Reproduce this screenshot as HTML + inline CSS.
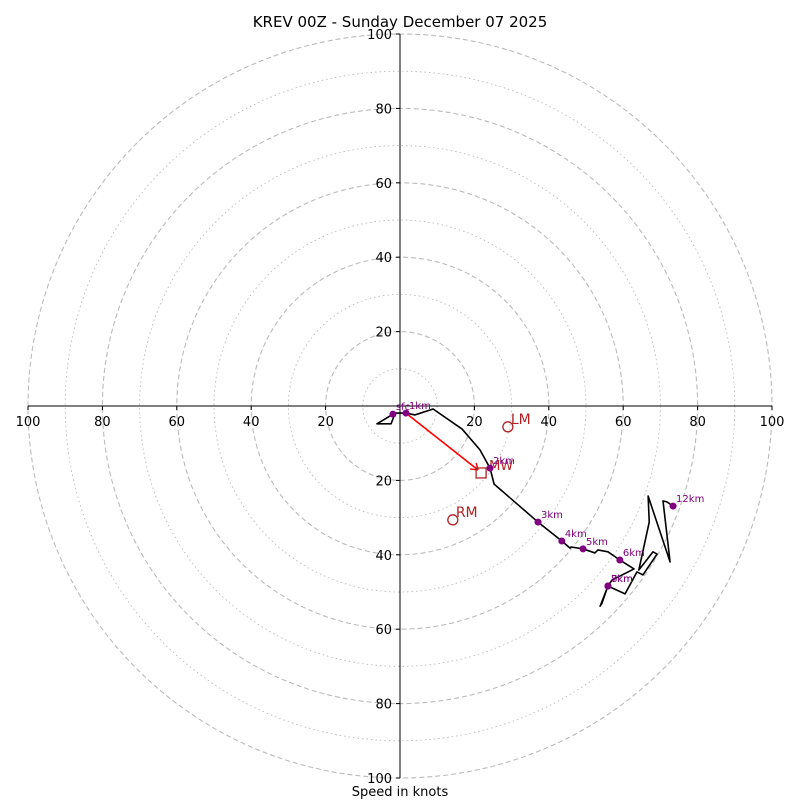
<!DOCTYPE html>
<html><head><meta charset="utf-8"><style>
body{margin:0;background:#fff}
svg text{font-family:"DejaVu Sans","Liberation Sans",sans-serif}
</style></head><body>
<svg id="c" width="800" height="800" viewBox="0 0 800 800">
<text x="400" y="27" text-anchor="middle" font-size="15">KREV 00Z - Sunday December 07 2025</text>
<text x="400" y="796" text-anchor="middle" font-size="13">Speed in knots</text>
<g id="rings"></g><g id="axes"></g><g id="plot"></g>
</svg>
<script>
const CX=400, CY=406, S=3.72;
const ringSpeeds=[10,20,30,40,50,60,70,80,90,100];
const tickLabels=[20,40,60,80,100];
const pathU=[-1.9,-6.2,-2.4,-1.3,1.6,4.0,8.9,16.7,21.5,24.2,25.3,37.1,43.5,45.7,46.0,49.2,52.4,53.2,55.9,59.1,62.9,57.0,55.9,54.3,53.8,55.9,60.5,63.7,65.3,69.1,68.0,64.2,67.0,66.7,72.6,70.7,71.8,73.4];
const pathV=[-2.2,-4.8,-4.8,-1.9,-1.9,-2.4,-0.8,-6.2,-11.8,-16.7,-21.0,-31.2,-36.3,-38.2,-37.9,-38.4,-39.5,-38.7,-39.2,-41.4,-43.8,-46.8,-48.4,-53.0,-53.8,-48.4,-50.5,-44.6,-45.4,-39.8,-39.2,-44.1,-31.2,-24.2,-41.9,-25.5,-25.8,-26.9];
const markLabels=["sfc","1km","2km","3km","4km","5km","6km","7km","8km","12km"];
const markU=[-1.9,1.6,24.2,37.1,43.5,49.2,59.1,55.9,55.9,73.4];
const markV=[-2.2,-1.9,-16.7,-31.2,-36.3,-38.4,-41.4,-48.4,-48.4,-26.9];
const mw=[21.8,-18.0], lm=[29.0,-5.6], rm=[14.2,-30.6];
const sx=u=>CX+u*S, sy=v=>CY-v*S;
const NS="http://www.w3.org/2000/svg";
function mk(t,a,p){const e=document.createElementNS(NS,t);for(const k in a)e.setAttribute(k,a[k]);p.appendChild(e);return e;}
const rings=document.getElementById('rings'),axes=document.getElementById('axes'),plot=document.getElementById('plot');
ringSpeeds.forEach(s=>{const c=mk('circle',{cx:CX,cy:CY,r:s*S,fill:'none',stroke:'#bbb','stroke-width':s%20?0.9:1.1,'stroke-dasharray':s%20?'1.5,3':'5,3'},rings);

});
let l=mk('line',{x1:CX-100*S,y1:CY,x2:CX+100*S,y2:CY,stroke:'#000'},axes);


l=mk('line',{x1:CX,y1:CY-100*S,x2:CX,y2:CY+100*S,stroke:'#000'},axes);


tickLabels.forEach(t=>{
 [[t,0],[-t,0]].forEach(([u])=>{mk('line',{x1:sx(u),y1:CY,x2:sx(u),y2:CY+4,stroke:'#000'},axes);
  const e=mk('text',{x:sx(u),y:CY+20,'text-anchor':'middle','font-size':13},axes);e.textContent=t;
  
  });
 [t,-t].forEach(v=>{mk('line',{x1:CX-4,y1:sy(v),x2:CX,y2:sy(v),stroke:'#000'},axes);
  const e=mk('text',{x:CX-8,y:sy(v)+5,'text-anchor':'end','font-size':13},axes);e.textContent=t;
  
  });
});
const pl=mk('polyline',{points:pathU.map((u,i)=>sx(u)+','+sy(pathV[i])).join(' '),fill:'none',stroke:'#000','stroke-width':1.6,'stroke-linejoin':'round'},plot);


const sh=mk('line',{x1:sx(markU[1]),y1:sy(markV[1]),x2:sx(mw[0])-3,y2:sy(mw[1])-3,stroke:'red','stroke-width':1.6},plot);


mk('path',{d:`M${sx(mw[0])-3} ${sy(mw[1])-3} l-8 -1 M${sx(mw[0])-3} ${sy(mw[1])-3} l-2 -7`,stroke:'red','stroke-width':1.4,fill:'none'},plot);
const sq=mk('rect',{x:sx(mw[0])-5,y:sy(mw[1])-5,width:10,height:10,fill:'none',stroke:'#b22222','stroke-width':1.3},plot);


let t=mk('text',{x:sx(mw[0])+8,y:sy(mw[1])-3,fill:'#b22222','font-size':13},plot);t.textContent='MW';


[[lm,'LM'],[rm,'RM']].forEach(([p,n])=>{const c=mk('circle',{cx:sx(p[0]),cy:sy(p[1]),r:5,fill:'none',stroke:'#b22222','stroke-width':1.3},plot);


const e=mk('text',{x:sx(p[0])+3,y:sy(p[1])-3,fill:'#b22222','font-size':14},plot);e.textContent=n;

});
markLabels.forEach((n,i)=>{const c=mk('circle',{cx:sx(markU[i]),cy:sy(markV[i]),r:3.5,fill:'purple'},plot);


const e=mk('text',{x:sx(markU[i])+3,y:sy(markV[i])-4,fill:'purple','font-size':10},plot);e.textContent=n;

});
</script>
</body></html>
